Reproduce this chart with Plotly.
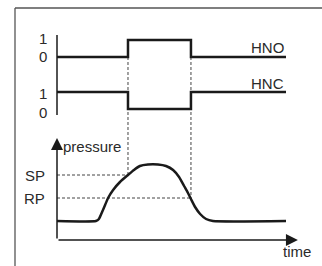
import plotly.graph_objects as go

# ---- data (schematic units) ----
switch_times = [0, 31, 58.5, 100]          # time at which switching outputs change
hno_states = [0, 1, 0, 0]                  # HNO output (hv steps)
hnc_states = [1, 0, 1, 1]                  # HNC output (hv steps)

time = [0, 17, 18.3, 19.7, 21, 22.3, 24.5, 27.5, 31, 33.6, 36.2, 39.7, 44.1,
        47.6, 50.7, 53.3, 55.5, 57.2, 58.5, 60.3, 62.5, 65.1, 68.1, 100]
pressure = [1.9, 1.9, 2.1, 2.8, 3.5, 4.2, 5.0, 5.8, 6.5, 7.0, 7.4, 7.55, 7.55,
            7.4, 7.0, 6.3, 5.4, 4.7, 4.1, 3.3, 2.6, 2.1, 1.9, 1.9]
SP = 6.5
RP = 4.2
t_on, t_off = switch_times[1], switch_times[2]

# ---- layout constants ----
HNO_OFFSET = 18.3
HNC_OFFSET = 13.1
SIG_H = 1.7
TIME_END = 105.2
P_TOP = 10.2
FONT = "Liberation Sans, Arial, sans-serif"
INK = "#1a1a1a"
TXT = "#2a2a2a"

fig = go.Figure()

fig.add_trace(go.Scatter(x=switch_times, y=[HNO_OFFSET + SIG_H * v for v in hno_states],
                         mode="lines", line=dict(shape="hv", color=INK, width=2.5),
                         hoverinfo="skip"))
fig.add_trace(go.Scatter(x=switch_times, y=[HNC_OFFSET + SIG_H * v for v in hnc_states],
                         mode="lines", line=dict(shape="hv", color=INK, width=2.5),
                         hoverinfo="skip"))
fig.add_trace(go.Scatter(x=time, y=pressure, mode="lines",
                         line=dict(shape="spline", smoothing=0.5, color=INK, width=2.5),
                         hoverinfo="skip"))

dash = dict(color="#444444", width=1, dash="3px,2px")
shapes = [
    # frame
    dict(type="line", xref="paper", yref="paper", x0=15/322, x1=15/322, y0=0, y1=1-8/266,
         line=dict(color="#555555", width=1.3)),
    dict(type="line", xref="paper", yref="paper", x0=15/322, x1=1, y0=1-8/266, y1=1-8/266,
         line=dict(color="#555555", width=1.3)),
    # signal axis
    dict(type="line", xref="x", yref="y", x0=0, x1=0, y0=HNC_OFFSET - 0.6,
         y1=HNO_OFFSET + SIG_H + 0.5, line=dict(color=INK, width=1.5)),
    # dashed guides
    dict(type="line", xref="x", yref="y", x0=0, x1=t_on, y0=SP, y1=SP, line=dash, layer="below"),
    dict(type="line", xref="x", yref="y", x0=0, x1=t_off, y0=RP, y1=RP, line=dash, layer="below"),
    dict(type="line", xref="x", yref="y", x0=t_on, x1=t_on, y0=HNO_OFFSET, y1=SP, line=dash, layer="below"),
    dict(type="line", xref="x", yref="y", x0=t_off, x1=t_off, y0=HNO_OFFSET, y1=RP, line=dash, layer="below"),
]

ann = []
# axis arrows
ann.append(dict(x=0, y=P_TOP, ax=0, ay=0, xref="x", yref="y", axref="x", ayref="y",
                showarrow=True, arrowhead=2, arrowsize=1.6, arrowwidth=1.5, arrowcolor=INK, text=""))
ann.append(dict(x=TIME_END, y=0, ax=0, ay=0, xref="x", yref="y", axref="x", ayref="y",
                showarrow=True, arrowhead=2, arrowsize=1.6, arrowwidth=1.5, arrowcolor=INK, text=""))

def label(text, x, y, xanchor="center"):
    ann.append(dict(x=x, y=y, xref="x", yref="y", text=text, showarrow=False,
                    xanchor=xanchor, yanchor="middle",
                    font=dict(family=FONT, size=15, color=TXT)))

label("1", -6.1, HNO_OFFSET + SIG_H + 0.2)
label("0", -6.1, HNO_OFFSET + 0.1)
label("1", -6.1, HNC_OFFSET + SIG_H - 0.1)
label("0", -6.1, HNC_OFFSET - 0.3)
label("HNO", 100, HNO_OFFSET + 1.0, "right")
label("HNC", 100, HNC_OFFSET + SIG_H + 0.9, "right")
label("pressure", 1.6, 9.4, "left")
label("SP", -4.2, SP, "right")
label("RP", -4.2, RP, "right")
label("time", 104.8, -1.1)

fig.update_layout(
    width=322, height=266,
    margin=dict(l=0, r=0, t=0, b=0),
    paper_bgcolor="white", plot_bgcolor="white",
    showlegend=False,
    xaxis=dict(range=[-24.89, 115.72], visible=False, fixedrange=True),
    yaxis=dict(range=[-2.6, 24.0], visible=False, fixedrange=True),
    shapes=shapes, annotations=ann,
)

fig.write_html("out.html", config={"displayModeBar": False},
               post_script="document.body.style.margin='0';document.body.style.overflow='hidden';")
